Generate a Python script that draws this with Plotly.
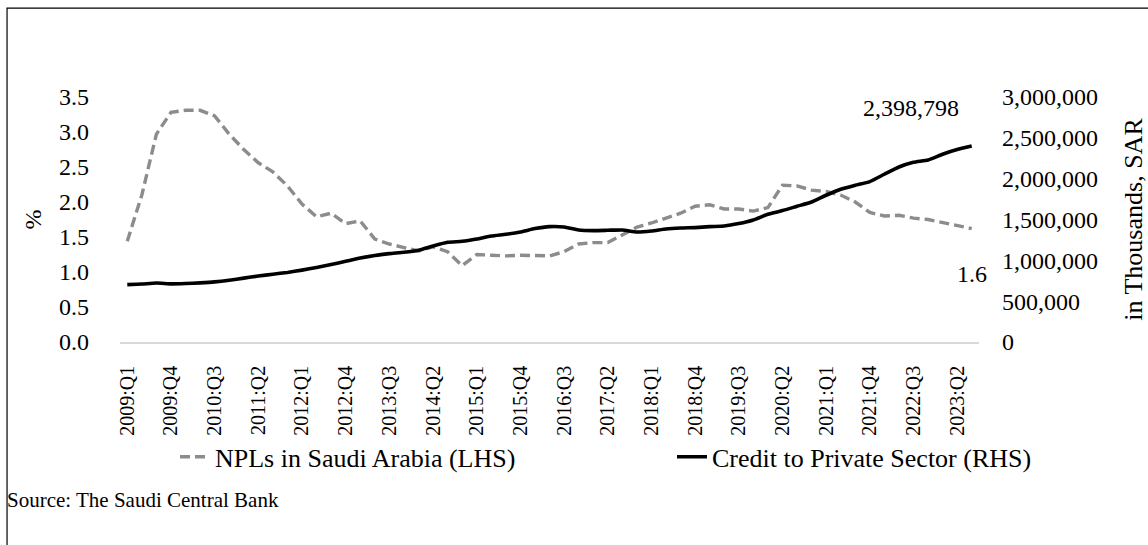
import plotly.graph_objects as go

# ---------------- data ----------------
quarters = [f"{y}:Q{q}" for y in range(2009, 2024) for q in range(1, 5)][:59]  # 2009:Q1 .. 2023:Q3

npl = [1.44, 2.10, 2.97, 3.28, 3.31, 3.31, 3.23, 2.97, 2.75, 2.56,
       2.43, 2.23, 1.97, 1.79, 1.84, 1.69, 1.73, 1.47, 1.40, 1.35,
       1.30, 1.36, 1.29, 1.09, 1.25, 1.24, 1.23, 1.24, 1.24, 1.23,
       1.29, 1.40, 1.42, 1.42, 1.53, 1.64, 1.70, 1.77, 1.84, 1.94,
       1.96, 1.90, 1.90, 1.87, 1.92, 2.24, 2.23, 2.17, 2.15, 2.10,
       2.00, 1.85, 1.80, 1.81, 1.77, 1.75, 1.71, 1.67, 1.62]

credit = [703000, 710000, 722000, 712000, 716000, 724000, 736000, 756000, 782000, 808000,
          830000, 852000, 880000, 912000, 948000, 988000, 1028000, 1060000, 1082000, 1098000,
          1123000, 1176000, 1221000, 1233000, 1261000, 1298000, 1319000, 1347000, 1389000, 1413000,
          1408000, 1372000, 1364000, 1368000, 1372000, 1347000, 1359000, 1384000, 1396000, 1401000,
          1413000, 1420000, 1450000, 1494000, 1564000, 1609000, 1662000, 1714000, 1797000, 1870000,
          1919000, 1964000, 2054000, 2143000, 2201000, 2229000, 2299000, 2356000, 2398798]

tick_labels = quarters[::3]

npl_name = "NPLs in Saudi Arabia (LHS)"
credit_name = "Credit to Private Sector (RHS)"
source_text = "Source: The Saudi Central Bank"
left_title = "%"
right_title = "in Thousands, SAR"

FONT = "Liberation Serif"

fig = go.Figure()
fig.add_trace(go.Scatter(
    x=quarters, y=npl, name=npl_name, mode="lines",
    line=dict(color="#8c8c8c", width=3.4, dash="10px,5px"),
    yaxis="y", legend="legend"))
fig.add_trace(go.Scatter(
    x=quarters, y=credit, name=credit_name, mode="lines",
    line=dict(color="#000000", width=3.6, shape="spline", smoothing=0.5),
    yaxis="y2", legend="legend2"))

fig.add_annotation(x=quarters[-1], y=credit[-1], yref="y2", text=f"{credit[-1]:,}",
                   showarrow=False, xshift=-61, yshift=38,
                   font=dict(family=FONT, size=24, color="black"))
fig.add_annotation(x=quarters[-1], y=npl[-1], yref="y", text=f"{npl[-1]:.1f}",
                   showarrow=False, xshift=0, yshift=-45,
                   font=dict(family=FONT, size=24, color="black"))
fig.add_annotation(x=-0.134, y=-0.645, xref="paper", yref="paper", text=source_text,
                   showarrow=False, xanchor="left", yanchor="middle",
                   font=dict(family=FONT, size=21, color="black"))

fig.add_shape(type="rect", xref="paper", yref="paper",
              x0=-0.1315, y0=-1.2, x1=1.3, y1=1.363,
              line=dict(color="black", width=1.2), fillcolor="rgba(0,0,0,0)")

legend_font = dict(family=FONT, size=26, color="black")
fig.update_layout(
    width=1148, height=545,
    margin=dict(l=120, r=169, t=97, b=203, autoexpand=False),
    paper_bgcolor="white", plot_bgcolor="white",
    font=dict(family=FONT, size=24, color="black"),
    showlegend=True,
    legend=dict(orientation="h", x=0.064, y=-0.469, xanchor="left", yanchor="middle",
                font=legend_font, bgcolor="rgba(0,0,0,0)"),
    legend2=dict(orientation="h", x=0.6426, y=-0.469, xanchor="left", yanchor="middle",
                 font=legend_font, bgcolor="rgba(0,0,0,0)"),
    xaxis=dict(type="category", range=[-0.5, 58.5], tickmode="array",
               tickvals=tick_labels, ticktext=tick_labels, tickangle=-90,
               showline=True, linecolor="#d9d9d9", linewidth=1.5, showgrid=False,
               ticks="", ticklabelstandoff=14,
               tickfont=dict(family=FONT, size=20, color="black")),
    yaxis=dict(range=[0, 3.5], dtick=0.5, tickformat=".1f", showgrid=False, zeroline=False,
               showline=False, ticks="", ticklabelstandoff=30,
               title=dict(text=left_title, standoff=10, font=dict(family=FONT, size=24)),
               tickfont=dict(family=FONT, size=24, color="black")),
    yaxis2=dict(range=[0, 3000000], dtick=500000, tickformat=",d", overlaying="y", side="right",
                showgrid=False, zeroline=False, showline=False, ticks="", ticklabelstandoff=22,
                title=dict(text=right_title, standoff=35, font=dict(family=FONT, size=26)),
                tickfont=dict(family=FONT, size=24, color="black")),
)

fig.write_html("out.html", config={"displayModeBar": False},
               post_script="document.body.style.margin='0';")
